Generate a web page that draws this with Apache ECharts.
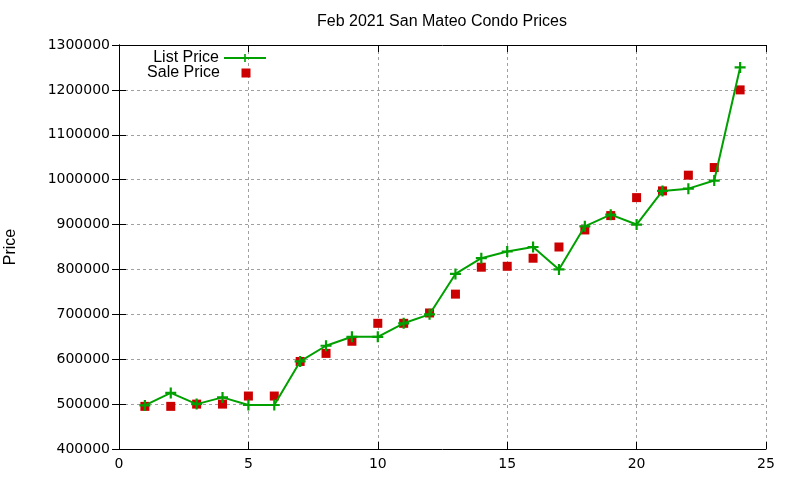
<!DOCTYPE html>
<html lang="en">
<head>
    <meta charset="UTF-8">
    <title>Feb 2021 San Mateo Condo Prices</title>
    <script src="https://cdn.jsdelivr.net/npm/echarts@6/dist/echarts.min.js"></script>
    <style>
        html, body { margin: 0; padding: 0; background: #fff; }
    </style>
</head>
<body>
    <div id="main" style="width:800px;height:480px;"></div>

    <script>
    // data
    var listingIndex = [1, 2, 3, 4, 5, 6, 7, 8, 9, 10, 11, 12, 13, 14, 15, 16, 17, 18, 19, 20, 21, 22, 23, 24];
    var listPrice = [497000, 525000, 500000, 515000, 498000, 498000, 595000, 630000, 650000, 650000, 680000, 700000,
                     790000, 825000, 840000, 850000, 800000, 896000, 922000, 900000, 975000, 980000, 998000, 1250000];
    var salePrice = [495000, 495000, 500000, 500000, 518000, 518000, 595000, 613000, 640000, 680000, 680000, 703000,
                     745000, 805000, 807000, 825000, 850000, 888000, 920000, 960000, 975000, 1010000, 1027000, 1200000];
    var xTicks = [0, 5, 10, 15, 20, 25];

    function pairs(xs, ys) {
        return xs.map(function (x, i) { return [x, ys[i]]; });
    }

    var plus = 'path://M4,0H6V4H10V6H6V10H4V6H0V4H4Z';
    // square in the middle of a 42x9 box, so the legend keeps it square
    var squareIcon = 'path://M0,0M42,9M16.5,0H25.5V9H16.5Z';
    var tickFont = { fontFamily: 'DejaVu Sans', fontSize: 14, color: '#000' };
    var gridLine = { show: true, lineStyle: { color: '#a0a0a0', type: [3, 3], width: 1 } };

    var myChart = echarts.init(document.getElementById('main'));
    myChart.setOption({
        animation: false,
        title: {
            text: 'Feb 2021 San Mateo Condo Prices',
            left: 437,
            top: 9,
            textAlign: 'center',
            textStyle: { fontFamily: 'Liberation Sans', fontSize: 16, fontWeight: 'normal', color: '#000' }
        },
        legend: [{
            data: ['List Price'],
            right: 533,
            top: 50,
            padding: 0,
            align: 'right',
            itemWidth: 42,
            itemHeight: 10,
            textStyle: { fontFamily: 'Liberation Sans', fontSize: 16, color: '#000' }
        }, {
            data: [{ name: 'Sale Price', icon: squareIcon }],
            right: 533,
            top: 65,
            padding: 0,
            align: 'right',
            itemWidth: 42,
            itemHeight: 9,
            textStyle: { fontFamily: 'Liberation Sans', fontSize: 16, color: '#000' }
        }],
        grid: { left: 119, right: 34, top: 45, bottom: 31, outerBoundsMode: 'none' },
        xAxis: [{
            type: 'value',
            min: xTicks[0],
            max: xTicks[xTicks.length - 1],
            interval: 5,
            axisLine: { show: true, lineStyle: { color: '#000', width: 1 } },
            axisTick: { inside: true, length: 7, lineStyle: { color: '#000' } },
            axisLabel: Object.assign({ margin: 8 }, tickFont),
            splitLine: gridLine
        }, {
            type: 'value',
            position: 'top',
            min: xTicks[0],
            max: xTicks[xTicks.length - 1],
            interval: 5,
            axisLine: { show: true, lineStyle: { color: '#000', width: 1 } },
            axisTick: { inside: true, length: 7, lineStyle: { color: '#000' } },
            axisLabel: { show: false },
            splitLine: { show: false }
        }],
        yAxis: [{
            type: 'value',
            min: 400000,
            max: 1300000,
            interval: 100000,
            name: 'Price',
            nameLocation: 'middle',
            nameGap: 100,
            nameRotate: 90,
            nameTextStyle: { fontFamily: 'Liberation Sans', fontSize: 16, color: '#000' },
            axisLine: { show: true, lineStyle: { color: '#000', width: 1 } },
            axisTick: { inside: true, length: 7, lineStyle: { color: '#000' } },
            axisLabel: Object.assign({ margin: 9, formatter: function (v) { return String(v); } }, tickFont),
            splitLine: gridLine
        }, {
            type: 'value',
            position: 'right',
            min: 400000,
            max: 1300000,
            interval: 100000,
            axisLine: { show: true, lineStyle: { color: '#000', width: 1 } },
            axisTick: { inside: true, length: 7, lineStyle: { color: '#000' } },
            axisLabel: { show: false },
            splitLine: { show: false }
        }],
        series: [{
            name: 'List Price',
            type: 'line',
            data: pairs(listingIndex, listPrice),
            symbol: plus,
            symbolSize: 11,
            showAllSymbol: true,
            color: '#00a000',
            lineStyle: { color: '#00a000', width: 2 },
            itemStyle: { color: '#00a000' },
            z: 3
        }, {
            name: 'Sale Price',
            type: 'scatter',
            data: pairs(listingIndex, salePrice),
            symbol: 'rect',
            symbolSize: 9,
            color: '#cc0000',
            itemStyle: { color: '#cc0000', opacity: 1 },
            z: 2
        }]
    });
    </script>
</body>
</html>
